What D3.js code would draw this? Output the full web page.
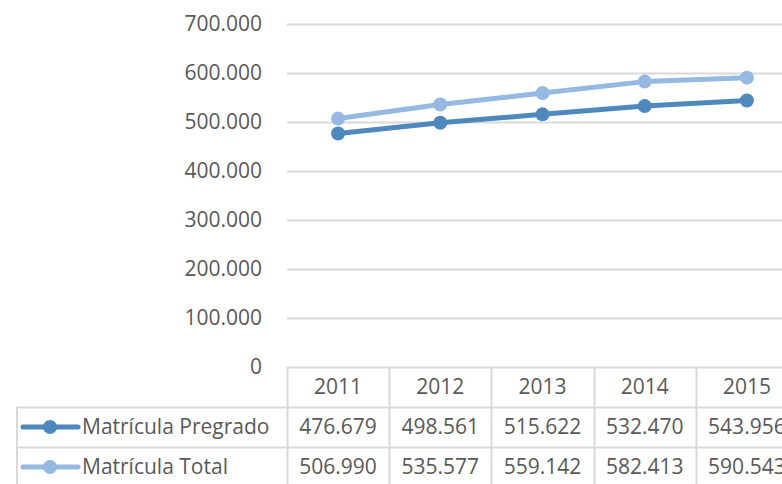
<!DOCTYPE html>
<html><head><meta charset="utf-8">
<script src="https://cdn.jsdelivr.net/npm/d3@7"></script>
<style>
html,body{margin:0;padding:0;background:#fff;overflow:hidden}
text{font-family:"Open Sans","Noto Sans",sans-serif;fill:#595959}
</style></head>
<body>
<svg id="c" width="782" height="484"></svg>
<script>
const years = ["2011","2012","2013","2014","2015"];
const pregrado = [476679, 498561, 515622, 532470, 543956];
const total = [506990, 535577, 559142, 582413, 590543];
const seriesNames = ["Matrícula Pregrado","Matrícula Total"];
const seriesColors = ["#4F88BD","#95B9E0"];
const yTicks = [0,100000,200000,300000,400000,500000,600000,700000];

const series = [pregrado, total];
const loc = d3.formatLocale({decimal:",", thousands:".", grouping:[3], currency:["",""]});
const fmt = loc.format(",");
const tickLabel = v => v === 0 ? "0" : fmt(v/1000) + ".000";

const FS = 21;
const svg = d3.select("#c");
const plotLeft = 287, plotRight = 798, plotTop = 24, plotBottom = 367;
const y = d3.scaleLinear().domain([0,700000]).range([plotBottom, plotTop]);
const x = d3.scaleBand().domain(years).range([plotLeft, plotRight]);

// gridlines
svg.append("g").selectAll("line").data(yTicks).join("line")
  .attr("x1", plotLeft).attr("x2", 782)
  .attr("y1", d => Math.round(y(d))+0.5).attr("y2", d => Math.round(y(d))+0.5)
  .attr("stroke", "#d9d9d9").attr("stroke-width", 2);

// y axis labels
svg.append("g").selectAll("text").data(yTicks).join("text")
  .attr("x", 262).attr("y", d => y(d)).attr("dy","0.35em")
  .attr("text-anchor","end").attr("font-size", FS)
  .text(d => tickLabel(d));

// lines
const line = d3.line().x((d,i) => x(years[i]) + x.bandwidth()/2).y(d => y(d));
series.forEach((s, k) => {
  const g = svg.append("g");
  g.append("path").datum(s).attr("d", line).attr("fill","none")
    .attr("stroke", seriesColors[k]).attr("stroke-width", 5).attr("stroke-linejoin","round");
  g.selectAll("circle").data(s).join("circle")
    .attr("cx",(d,i)=>x(years[i])+x.bandwidth()/2).attr("cy", d=>y(d)).attr("r",7)
    .attr("fill", seriesColors[k]);
});

// data table
const rowTop = [367, 407, 447];
const rowH = 40;
const tableLeft = 17;
const tg = svg.append("g");
const bColor = "#d9d9d9";
tg.append("line").attr("x1",tableLeft).attr("x2",782).attr("y1",407.5).attr("y2",407.5).attr("stroke",bColor).attr("stroke-width",2);
tg.append("line").attr("x1",tableLeft).attr("x2",782).attr("y1",447.5).attr("y2",447.5).attr("stroke",bColor).attr("stroke-width",2);
tg.append("line").attr("x1",tableLeft).attr("x2",tableLeft).attr("y1",407).attr("y2",484).attr("stroke",bColor).attr("stroke-width",2);
const colEdges = years.map(d => x(d)).concat([plotRight]);
tg.selectAll("line.v").data(colEdges).join("line").attr("class","v")
  .attr("x1",d=>Math.round(d)+0.5).attr("x2",d=>Math.round(d)+0.5).attr("y1",367).attr("y2",484)
  .attr("stroke",bColor).attr("stroke-width",2);
tg.selectAll("text.h").data(years).join("text").attr("class","h")
  .attr("x", d => x(d)+x.bandwidth()/2).attr("y", 387).attr("dy","0.35em")
  .attr("text-anchor","middle").attr("font-size",FS).text(d=>d);
series.forEach((s,k) => {
  const cy = rowTop[k+1] + rowH/2;
  tg.append("line").attr("x1",23).attr("x2",78).attr("y1",cy).attr("y2",cy)
    .attr("stroke",seriesColors[k]).attr("stroke-width",5).attr("stroke-linecap","round");
  tg.append("circle").attr("cx",50).attr("cy",cy).attr("r",7).attr("fill",seriesColors[k]);
  tg.append("text").attr("x",82).attr("y",cy).attr("dy","0.35em").attr("font-size",FS).text(seriesNames[k]);
  tg.selectAll("text.v"+k).data(s).join("text").attr("class","v"+k)
    .attr("x",(d,i)=>x(years[i])+x.bandwidth()/2).attr("y",cy).attr("dy","0.35em")
    .attr("text-anchor","middle").attr("font-size",FS).text(d=>fmt(d));
});
</script>
</body></html>
